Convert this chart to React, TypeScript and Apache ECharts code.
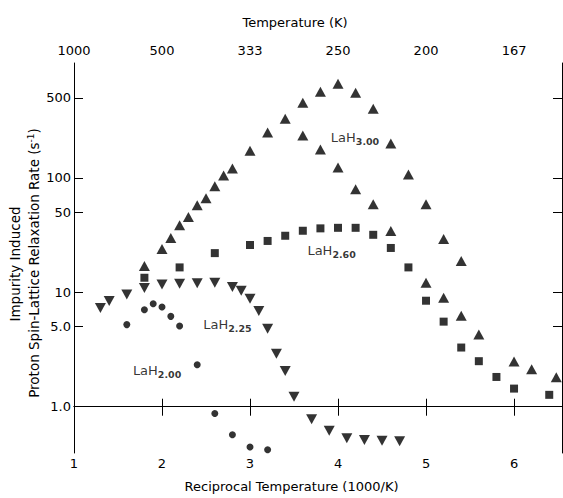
import React, { useEffect, useRef } from 'react';
import * as echarts from 'echarts';

// Tick values / labels
const recipTicks = [1, 2, 3, 4, 5, 6];
const yTickValues = [1, 5, 10, 50, 100, 500];
const yTickLabels = ['1.0', '5.0', '10', '50', '100', '500'];

// LaH3.00 (up triangles)
const lah300X = [1.8, 2.0, 2.1, 2.2, 2.3, 2.4, 2.5, 2.6, 2.7, 2.8, 3.0, 3.2, 3.4, 3.6, 3.6, 3.8, 3.8, 4.0, 4.0, 4.2, 4.2, 4.4, 4.4, 4.6, 4.6, 4.8, 5.0, 5.0, 5.2, 5.2, 5.4, 5.4, 5.6, 6.0, 6.2, 6.48];
const lah300Y = [17.0, 23.9, 29.8, 38.6, 45.4, 57.7, 66.3, 84.4, 105, 121, 173, 249, 329, 454, 234, 565, 177, 663, 123, 554, 79.4, 402, 58.9, 200, 34.3, 107, 58.9, 12.1, 29.2, 8.96, 18.8, 6.25, 4.27, 2.49, 2.12, 1.81];

// LaH2.60 (squares)
const lah260X = [1.8, 2.2, 2.6, 3.0, 3.2, 3.4, 3.6, 3.8, 4.0, 4.2, 4.4, 4.6, 4.8, 5.0, 5.2, 5.4, 5.6, 5.8, 6.0, 6.4];
const lah260Y = [13.4, 16.5, 22.0, 25.9, 28.1, 31.2, 34.5, 36.2, 36.6, 36.6, 31.8, 24.4, 16.5, 8.44, 5.54, 3.29, 2.5, 1.82, 1.44, 1.27];

// LaH2.25 (down triangles)
const lah225X = [1.3, 1.4, 1.6, 1.8, 2.0, 2.2, 2.4, 2.6, 2.8, 2.9, 3.0, 3.1, 3.2, 3.3, 3.4, 3.5, 3.7, 3.9, 4.1, 4.3, 4.5, 4.7];
const lah225Y = [7.29, 8.38, 9.57, 10.9, 11.7, 11.9, 12.0, 12.1, 11.1, 10.3, 8.78, 6.86, 4.79, 2.9, 2.05, 1.22, 0.778, 0.616, 0.529, 0.511, 0.504, 0.498];

// LaH2.00 (circles)
const lah200X = [1.6, 1.8, 1.9, 2.0, 2.1, 2.2, 2.4, 2.6, 2.8, 3.0, 3.2];
const lah200Y = [5.22, 7.05, 7.94, 7.44, 6.16, 5.08, 2.33, 0.873, 0.569, 0.444, 0.421];

// Series labels: name, subscript, anchor position
const labelNames = ['LaH', 'LaH', 'LaH', 'LaH'];
const labelSubs = ['3.00', '2.60', '2.25', '2.00'];
const labelX = [3.918, 3.652, 2.468, 1.669];
const labelY = [225, 23.4, 5.22, 2.08];

const FONT = 'DejaVu Sans';
const yMin = Math.log10(0.394);
const yMax = Math.log10(1009);
const xMin = 1;
const xMax = 6.545;

const toPts = (xs: number[], ys: number[]) => xs.map((x, i) => [x, Math.log10(ys[i])]);

export default function App() {
  const ref = useRef<HTMLDivElement>(null);
  useEffect(() => {
    if (!ref.current) return;
    const chart = echarts.init(ref.current, null, { renderer: 'svg' });
    const logTicks = yTickValues.map((v) => Math.log10(v));
    const yFmt = (v: number) => {
      const i = logTicks.findIndex((t) => Math.abs(t - v) < 1e-6);
      return i >= 0 ? yTickLabels[i] : '';
    };
    const axisLine = { show: true, lineStyle: { color: '#000', width: 1 } };
    const labelStyle = { color: '#000', fontSize: 13, fontFamily: FONT };
    const nameStyle = { color: '#000', fontSize: 13, fontFamily: FONT, padding: [0, 53, 0, 0] };
    const option: any = {
      animation: false,
      backgroundColor: '#fff',
      grid: { left: 74, right: 1, top: 63, bottom: 43 },
      xAxis: [
        {
          type: 'value', position: 'bottom', min: xMin, max: xMax,
          axisLine, splitLine: { show: false },
          axisTick: { show: true, inside: true, length: 8, customValues: recipTicks, lineStyle: { color: '#000' } },
          axisLabel: { ...labelStyle, margin: 4, customValues: recipTicks, formatter: (v: number) => String(v) },
          name: 'Reciprocal Temperature (1000/K)', nameLocation: 'middle', nameGap: 27, nameTextStyle: nameStyle,
        },
        {
          type: 'value', position: 'top', min: xMin, max: xMax,
          axisLine, splitLine: { show: false },
          axisTick: { show: true, inside: true, length: 9, customValues: recipTicks, lineStyle: { color: '#000' } },
          axisLabel: { ...labelStyle, margin: 6, customValues: recipTicks, formatter: (v: number) => String(Math.round(1000 / v)) },
          name: 'Temperature (K)', nameLocation: 'middle', nameGap: 34, nameTextStyle: { ...nameStyle, padding: [0, 46, 0, 0] },
        },
      ],
      yAxis: [
        {
          type: 'value', position: 'left', min: yMin, max: yMax,
          axisLine, splitLine: { show: false },
          axisTick: { show: true, inside: true, length: 9, customValues: logTicks, lineStyle: { color: '#000' } },
          axisLabel: { ...labelStyle, margin: 3, customValues: logTicks, formatter: yFmt },
        },
        {
          type: 'value', position: 'right', min: yMin, max: yMax,
          axisLine, splitLine: { show: false },
          axisTick: { show: true, inside: true, length: 9, customValues: logTicks, lineStyle: { color: '#000' } },
          axisLabel: { show: false },
        },
      ],
      graphic: [
        {
          type: 'text', x: 15, y: 264, rotation: Math.PI / 2,
          style: { text: 'Impurity Induced', fontSize: 13.5, fontFamily: FONT, fill: '#000', textAlign: 'center', textVerticalAlign: 'middle', align: 'center', verticalAlign: 'middle' },
        },
        {
          type: 'text', x: 34, y: 263, rotation: Math.PI / 2,
          style: {
            text: 'Proton Spin-Lattice Relaxation Rate (s{sup|-1})', fontSize: 13.5, fontFamily: FONT, fill: '#000',
            textAlign: 'center', textVerticalAlign: 'middle', align: 'center', verticalAlign: 'middle',
            rich: { sup: { fontSize: 9, fontFamily: FONT, fill: '#000', padding: [0, 0, 7, 0] } },
          },
        },
      ],
      series: [
        { type: 'scatter', xAxisIndex: 0, yAxisIndex: 0, symbol: 'triangle', symbolSize: [11, 10], itemStyle: { color: '#000' }, data: toPts(lah300X, lah300Y) },
        { type: 'scatter', xAxisIndex: 0, yAxisIndex: 0, symbol: 'rect', symbolSize: 8, itemStyle: { color: '#000' }, data: toPts(lah260X, lah260Y) },
        { type: 'scatter', xAxisIndex: 0, yAxisIndex: 0, symbol: 'triangle', symbolRotate: 180, symbolSize: [11, 10], itemStyle: { color: '#000' }, data: toPts(lah225X, lah225Y) },
        { type: 'scatter', xAxisIndex: 0, yAxisIndex: 0, symbol: 'circle', symbolSize: 7, itemStyle: { color: '#000' }, data: toPts(lah200X, lah200Y) },
        {
          type: 'scatter', xAxisIndex: 0, yAxisIndex: 0, symbolSize: 0, silent: true,
          data: labelX.map((x, i) => ({
            value: [x, Math.log10(labelY[i])],
            label: {
              show: true, position: 'right', distance: 0,
              formatter: `{a|${labelNames[i]}}{b|${labelSubs[i]}}`,
              rich: {
                a: { fontSize: 13, fontFamily: FONT, color: '#000', lineHeight: 16 },
                b: { fontSize: 9.5, fontFamily: FONT, fontWeight: 'bold', color: '#000', lineHeight: 10, padding: [8, 0, 0, 0] },
              },
            },
          })),
        },
      ],
    };
    chart.setOption(option);
    return () => chart.dispose();
  }, []);
  return <div ref={ref} style={{ position: 'absolute', left: 0, top: 0, width: 563, height: 498 }} />;
}
